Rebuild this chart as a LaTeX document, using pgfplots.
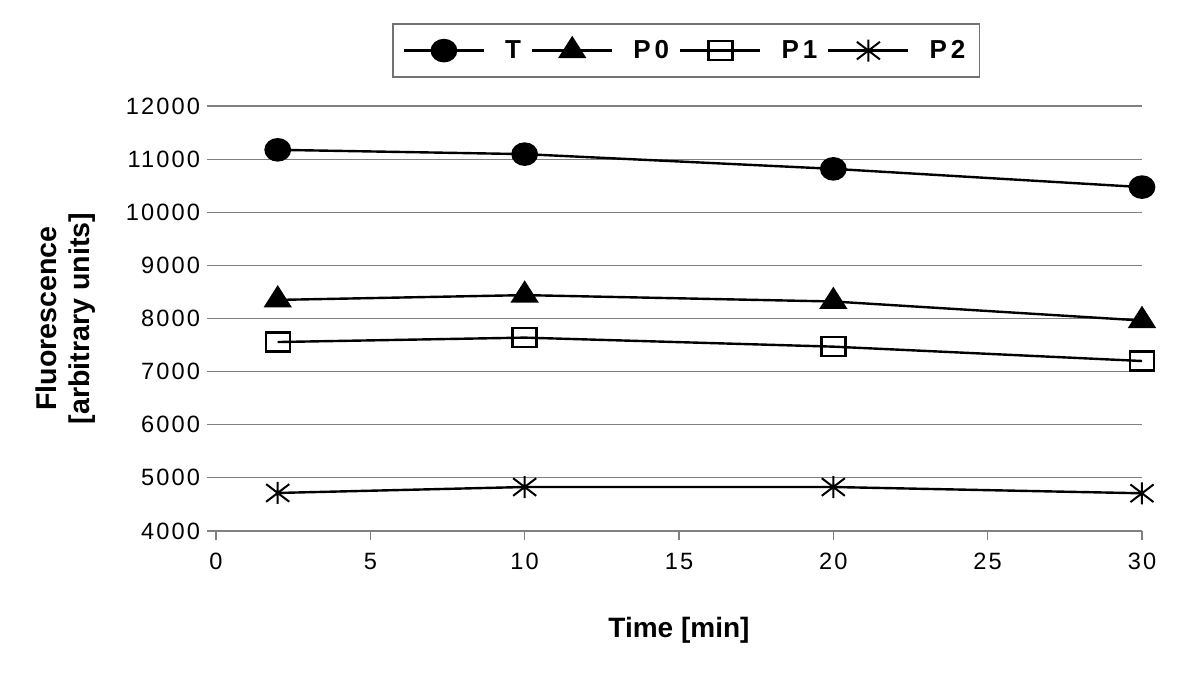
\documentclass[border=0pt]{standalone}
\usepackage{fontspec}
\setmainfont{Liberation Sans}
\newfontfamily\spaced[LetterSpace=9]{Liberation Sans}
\newfontfamily\spacedb[LetterSpace=15]{Liberation Sans}
\usepackage{pgfplots}
\pgfplotsset{compat=1.18}
\pgfdeclareplotmark{xast}{%
  \pgfpathmoveto{\pgfqpoint{0pt}{\pgfplotmarksize}}%
  \pgfpathlineto{\pgfqpoint{0pt}{-\pgfplotmarksize}}%
  \pgfpathmoveto{\pgfqpoint{1.05\pgfplotmarksize}{0.8\pgfplotmarksize}}%
  \pgfpathlineto{\pgfqpoint{-1.05\pgfplotmarksize}{-0.8\pgfplotmarksize}}%
  \pgfpathmoveto{\pgfqpoint{-1.05\pgfplotmarksize}{0.8\pgfplotmarksize}}%
  \pgfpathlineto{\pgfqpoint{1.05\pgfplotmarksize}{-0.8\pgfplotmarksize}}%
  \pgfusepathqstroke}
\begin{document}
\begin{tikzpicture}
\useasboundingbox (-108pt,-74.5pt) rectangle (492pt,265.5pt);
\begin{axis}[
  anchor=south west, at={(0,0)},
  scale only axis, width=463pt, height=212.5pt,
  xmin=0, xmax=30, ymin=4000, ymax=12000,
  xtick={0,5,...,30}, ytick={4000,5000,...,12000},
  scaled y ticks=false,
  axis x line*=bottom, axis y line*=left,
  y axis line style={draw=none},
  x axis line style={draw=black!50, line width=0.6pt},
  tick align=outside, major tick length=4.5pt,
  xtick style={draw=black!50, line width=0.6pt},
  ytick style={draw=black!50, line width=0.6pt},
  ymajorgrids, major grid style={draw=black!50, line width=0.6pt},
  /pgf/number format/assume math mode=true,
  /pgf/number format/1000 sep={},
  yticklabel style={/pgf/number format/fixed},
  tick label style={font=\spaced\fontsize{11.8}{14}\selectfont},
  xticklabel style={yshift=-3pt},
  xlabel={Time [min]},
  xlabel style={font=\bfseries\fontsize{14}{16}\selectfont, yshift=-17pt},
  ylabel={Fluorescence\\{}[arbitrary units]},
  ylabel style={font=\bfseries\fontsize{14.3}{16.5}\selectfont, align=center, yshift=8.5pt},
  clip=false,
  legend columns=4,
  legend image code/.code={\draw[mark repeat=2,mark phase=2,#1] plot coordinates {(0pt,0pt)(20pt,0pt)(40pt,0pt)};},
  legend style={at={(0.5076,1)}, anchor=south, yshift=14pt, draw=black!55, line width=0.8pt,
    font=\spacedb\bfseries\fontsize{13}{15}\selectfont, inner xsep=5pt, inner ysep=6pt,
    /tikz/every even column/.append style={column sep=3pt},
    /tikz/every odd column/.append style={column sep=8pt}},
  every axis plot/.append style={black, line width=1.2pt},
]
\addplot[mark=*, mark size=5.3pt, mark options={xscale=1.15, solid}] coordinates {(2,11175) (10,11094) (20,10817) (30,10473)};
\addlegendentry{T}
\addplot[mark=triangle*, mark size=6.3pt, mark options={xscale=1.1, solid}] coordinates {(2,8350) (10,8440) (20,8320) (30,7962)};
\addlegendentry{P0}
\addplot[mark=square, mark size=4.8pt, mark options={xscale=1.25, fill=white, solid, line width=1.2pt}] coordinates {(2,7557) (10,7640) (20,7470) (30,7200)};
\addlegendentry{P1}
\addplot[mark=xast, mark size=5.5pt, mark options={solid, line width=1pt}] coordinates {(2,4716) (10,4828) (20,4828) (30,4710)};
\addlegendentry{P2}
\end{axis}
\end{tikzpicture}
\end{document}
